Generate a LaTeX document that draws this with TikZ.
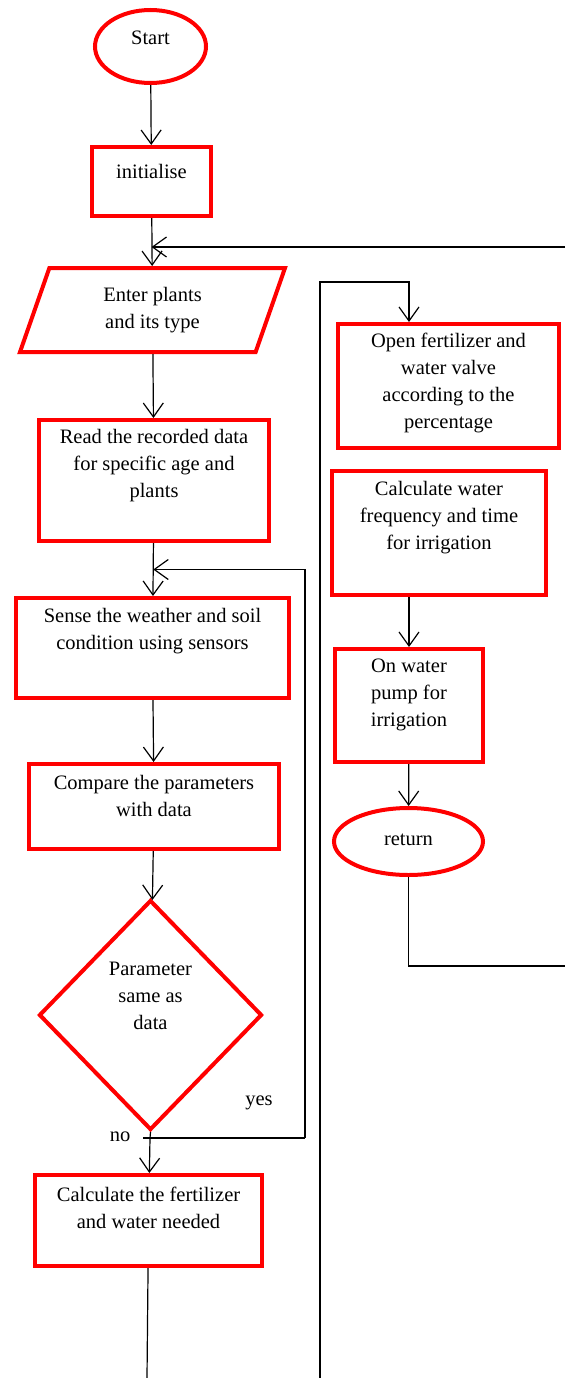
\documentclass[tikz,border=0pt]{standalone}
\usepackage{fontspec}
\setmainfont{Liberation Serif}
\usetikzlibrary{shapes.geometric, arrows.meta, positioning, calc}
\definecolor{flow-red}{RGB}{255,0,0}

\begin{document}
\begin{tikzpicture}[x=1pt, y=-1pt,
  box/.style={draw=flow-red, line width=4pt, inner sep=2pt},
  term/.style={box, ellipse},
  io/.style={box, trapezium, trapezium left angle=59.4, trapezium right angle=120.6, trapezium stretches body},
  test/.style={box, diamond, aspect=1},
  txt/.style={align=center, font=\fontsize{20.5}{27}\selectfont},
  lbl/.style={font=\fontsize{20.5}{27}\selectfont},
  arr/.style={-{Straight Barb[length=14pt, width=20pt]}, line width=1.2pt},
  ln/.style={line width=1.2pt},
]
  \useasboundingbox (0,0) rectangle (565,1378);

  % Left column
  \node[term, minimum width=111, minimum height=73, label={[txt, yshift=9]center:Start}] (start) at (150.5,46.5) {};
  \node[box, minimum width=119, minimum height=69, label={[txt, yshift=10]center:initialise}] (init) at (151.5,181.5) {};
  \node[io, txt, minimum width=265, minimum height=84] (enter) at (152.5,310) {Enter plants\\and its type};
  \node[box, minimum width=230, minimum height=121, label={[txt, yshift=15]center:{Read the recorded data\\for specific age and\\plants}}] (read) at (154,480.5) {};
  \node[box, minimum width=273, minimum height=100, label={[txt, yshift=17]center:{Sense the weather and soil\\condition using sensors}}] (sense) at (152.5,648) {};
  \node[box, minimum width=250, minimum height=85, label={[txt, yshift=11]center:{Compare the parameters\\with data}}] (comp) at (154,806.5) {};
  \node[test, minimum width=223, minimum height=230, label={[txt, yshift=19]center:{Parameter\\same as\\data}}] (dia) at (150.5,1015) {};
  \node[box, minimum width=227, minimum height=91, label={[txt, yshift=13]center:{Calculate the fertilizer\\and water needed}}] (calc) at (148.5,1220.5) {};

  % Right column
  \node[box, minimum width=221, minimum height=124, label={[txt, yshift=3]center:{Open fertilizer and\\water valve\\according to the\\percentage}}] (open) at (448.5,386) {};
  \node[box, minimum width=214, minimum height=124, label={[txt, yshift=15]center:{Calculate water\\frequency and time\\for irrigation}}] (water) at (439,533) {};
  \node[box, minimum width=148, minimum height=113, label={[txt, yshift=11]center:{On water\\pump for\\irrigation}}] (pump) at (409,705.5) {};
  \node[term, minimum width=149, minimum height=67, label={[txt, yshift=2]center:return}] (ret) at (408.5,841.5) {};

  % Labels
  \node[lbl] (yes) at (259,1103) {yes};
  \node[lbl] (no) at (120,1137) {no};

  % Free ends
  \coordinate (topin) at (565,247);
  \coordinate (nojoin) at (150,1138);
  \coordinate (leftout) at (147,1378);
  \coordinate (rightup) at (320,1378);
  \coordinate (retout) at (565,966);

  % Arrows
  \draw[arr] (start) -- (init);
  \draw[arr] (init) -- (enter);
  \draw[arr] (topin) -- (init.south |- topin);
  \draw[arr] (enter) -- (read);
  \draw[arr] (read) -- (sense);
  \draw[arr] (sense) -- (comp);
  \draw[arr] (comp) -- (dia);
  \draw[ln] (dia.south) -- (nojoin);
  \draw[ln] (nojoin) ++(-7,0) -- ++(162,0) coordinate (yesturn);
  \draw[arr] (yesturn) |- ($(read.south)!0.5!(sense.north)$);
  \draw[arr] (nojoin) -- (calc);
  \draw[ln] (calc) -- (leftout);
  \draw[arr] (rightup) |- (320,282) -| (open.north -| pump.north);
  \draw[arr] (water.south -| pump.north) -- (pump);
  \draw[arr] (pump) -- (ret);
  \draw[ln] (ret.south) |- (retout);
\end{tikzpicture}
\end{document}
